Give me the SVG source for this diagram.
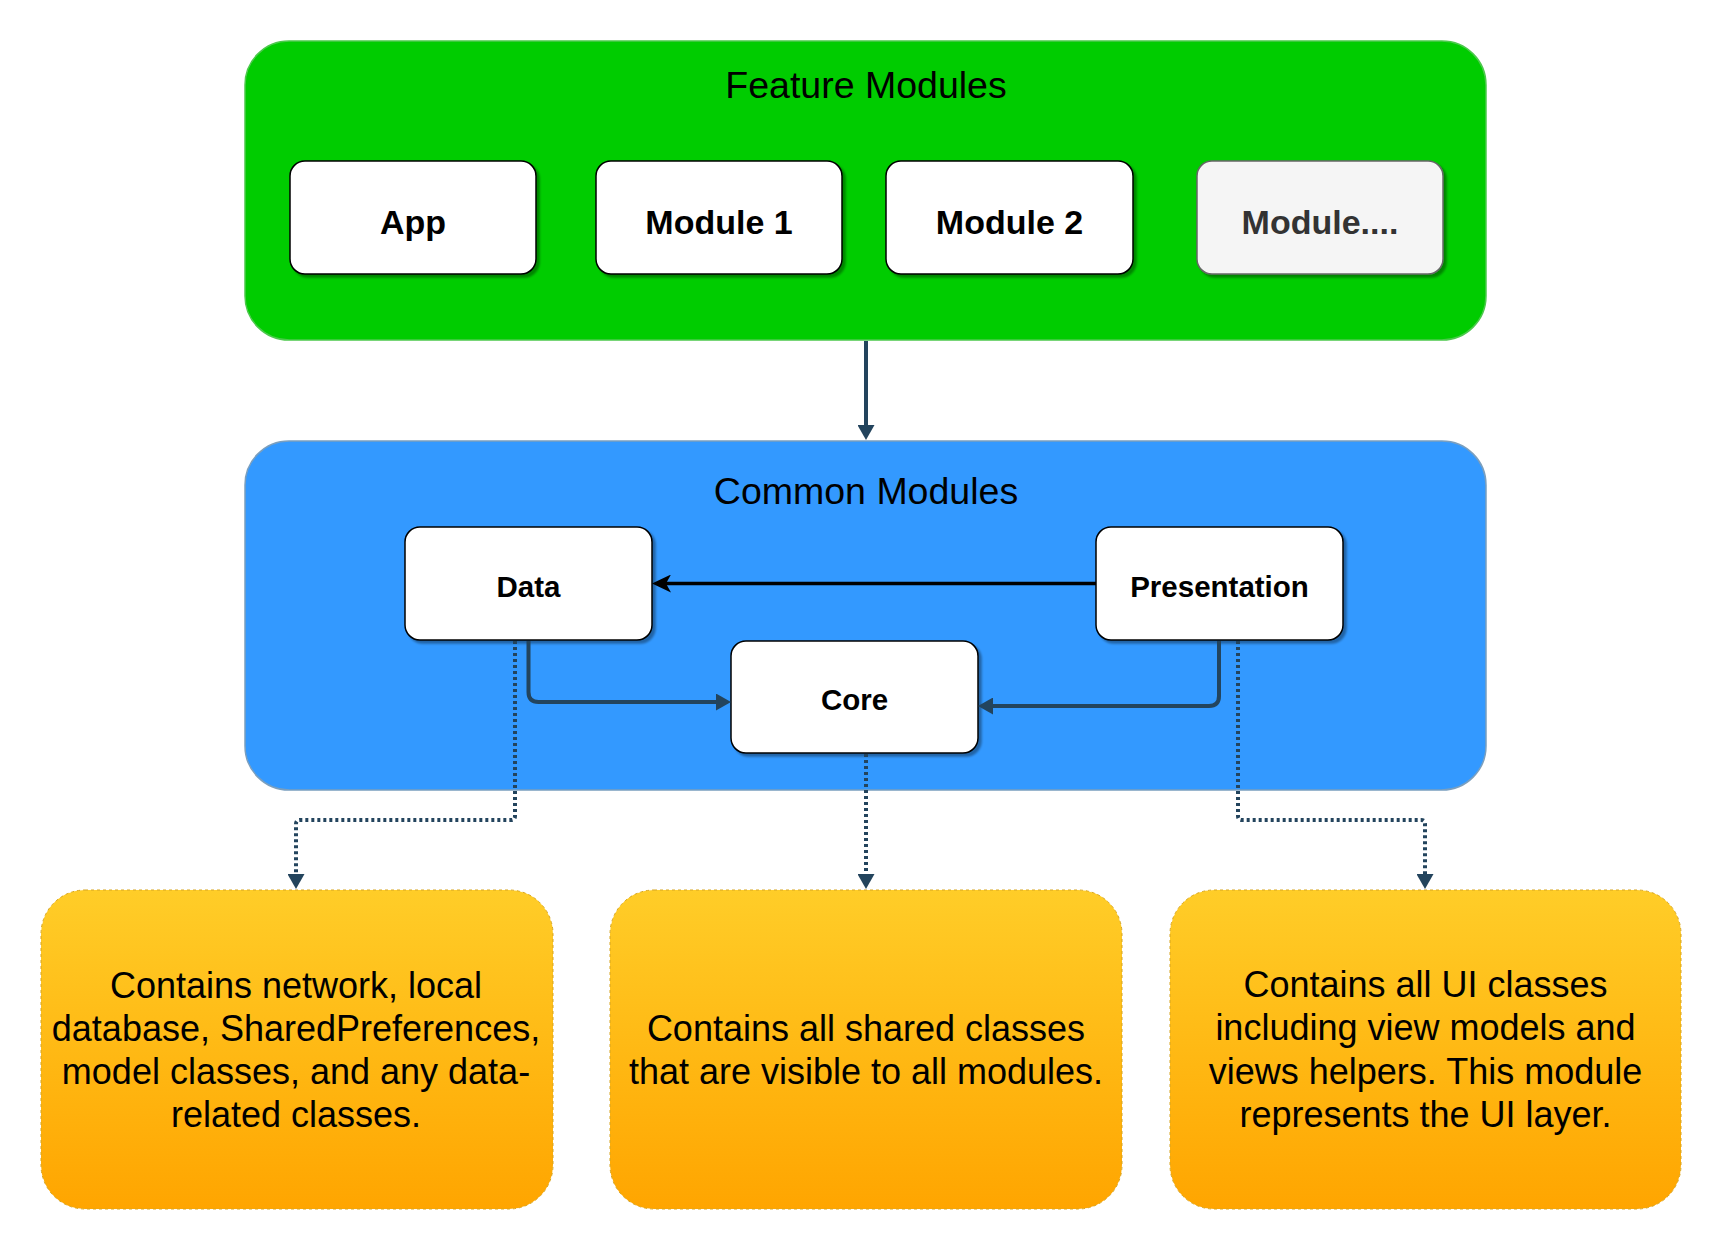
<svg xmlns="http://www.w3.org/2000/svg" width="1721" height="1251" viewBox="0 0 1721 1251">
  <defs>
    <linearGradient id="orange" x1="0" y1="0" x2="0" y2="1">
      <stop offset="0" stop-color="#ffcd28"/>
      <stop offset="1" stop-color="#ffa500"/>
    </linearGradient>
    <filter id="shadow" x="-10%" y="-10%" width="130%" height="130%">
      <feDropShadow dx="3" dy="3" stdDeviation="1.2" flood-color="#000000" flood-opacity="0.35"/>
    </filter>
    <marker id="block" viewBox="0 0 15 17" refX="5" refY="8.5" markerWidth="15" markerHeight="17" markerUnits="userSpaceOnUse" orient="auto">
      <path d="M0,0 L15,8.5 L0,17 z" fill="#23445d"/>
    </marker>
    <marker id="classic" viewBox="0 0 19 18" refX="7" refY="9" markerWidth="19" markerHeight="18" markerUnits="userSpaceOnUse" orient="auto">
      <path d="M0,0 L19,9 L0,18 L5,9 z" fill="#000000"/>
    </marker>
  </defs>
  <style>
    .title { font-family: "Liberation Sans", Arial, sans-serif; font-size: 37.5px; fill: #000000; text-anchor: middle; }
    .mod { font-family: "Liberation Sans", Arial, sans-serif; font-size: 34px; font-weight: bold; fill: #000000; text-anchor: middle; }
    .inner { font-family: "Liberation Sans", Arial, sans-serif; font-size: 29.5px; font-weight: bold; fill: #000000; text-anchor: middle; }
    .desc { font-family: "Liberation Sans", Arial, sans-serif; font-size: 36px; fill: #000000; text-anchor: middle; }
    .box { fill: #ffffff; stroke: #000000; stroke-width: 1.5; filter: url(#shadow); }
    .note { fill: url(#orange); stroke: #d7a520; stroke-width: 1; stroke-dasharray: 3 3; }
    .solid { fill: none; stroke: #23445d; stroke-width: 4; marker-end: url(#block); }
    .dotted { fill: none; stroke: #23445d; stroke-width: 4; stroke-dasharray: 3 3; marker-end: url(#block); }
  </style>

  <g id="feature-modules">
    <rect x="245" y="41" width="1241" height="299" rx="44" ry="44" fill="#00cc00" stroke="#4cc94c" stroke-width="1.5"/>
    <text class="title" x="866" y="98">Feature Modules</text>
  </g>
  <g id="app">
    <rect class="box" x="290" y="161" width="246" height="113" rx="15" ry="15"/>
    <text class="mod" x="413" y="234">App</text>
  </g>
  <g id="module1">
    <rect class="box" x="596" y="161" width="246" height="113" rx="15" ry="15"/>
    <text class="mod" x="719" y="234">Module 1</text>
  </g>
  <g id="module2">
    <rect class="box" x="886" y="161" width="247" height="113" rx="15" ry="15"/>
    <text class="mod" x="1009.5" y="234">Module 2</text>
  </g>
  <g id="module-more">
    <rect x="1197" y="161" width="246" height="113" rx="15" ry="15" fill="#f5f5f5" stroke="#666666" stroke-width="1.5" filter="url(#shadow)"/>
    <text class="mod" x="1320" y="234" style="fill:#333333">Module....</text>
  </g>

  <g id="common-modules">
    <rect x="245" y="441" width="1241" height="349" rx="44" ry="44" fill="#3399ff" stroke="#7a9fbf" stroke-width="1.5"/>
    <text class="title" x="866" y="504">Common Modules</text>
  </g>
  <g id="data">
    <rect class="box" x="405" y="527" width="247" height="113" rx="15" ry="15"/>
    <text class="inner" x="528.5" y="597">Data</text>
  </g>
  <g id="presentation">
    <rect class="box" x="1096" y="527" width="247" height="113" rx="15" ry="15"/>
    <text class="inner" x="1219.5" y="597">Presentation</text>
  </g>
  <g id="core">
    <rect class="box" x="731" y="641" width="247" height="112" rx="15" ry="15"/>
    <text class="inner" x="854.5" y="710">Core</text>
  </g>

  <g id="data-note">
    <rect class="note" x="41" y="890" width="512" height="319" rx="44" ry="44"/>
    <text class="desc" x="296" y="998">Contains network, local</text>
    <text class="desc" x="296" y="1041">database, SharedPreferences,</text>
    <text class="desc" x="296" y="1084">model classes, and any data-</text>
    <text class="desc" x="296" y="1127">related classes.</text>
  </g>
  <g id="core-note">
    <rect class="note" x="610" y="890" width="512" height="319" rx="44" ry="44"/>
    <text class="desc" x="866" y="1041">Contains all shared classes</text>
    <text class="desc" x="866" y="1084">that are visible to all modules.</text>
  </g>
  <g id="presentation-note">
    <rect class="note" x="1170" y="890" width="511" height="319" rx="44" ry="44"/>
    <text class="desc" x="1425.5" y="997">Contains all UI classes</text>
    <text class="desc" x="1425.5" y="1040">including view models and</text>
    <text class="desc" x="1425.5" y="1084">views helpers. This module</text>
    <text class="desc" x="1425.5" y="1127">represents the UI layer.</text>
  </g>

  <g id="connectors">
    <path class="solid" d="M866,341 V430"/>
    <path d="M1096,583.5 H664" fill="none" stroke="#000000" stroke-width="3.5" marker-end="url(#classic)"/>
    <path class="solid" d="M528.5,641 V692 Q528.5,702 538.5,702 H721"/>
    <path class="solid" d="M1219,641 V696 Q1219,706 1209,706 H988"/>
    <path class="dotted" d="M515,641 V816 Q515,820 511,820 H300 Q296,820 296,824 V879"/>
    <path class="dotted" d="M866,754 V879"/>
    <path class="dotted" d="M1238,641 V816 Q1238,820 1242,820 H1421 Q1425,820 1425,824 V879"/>
  </g>
</svg>
